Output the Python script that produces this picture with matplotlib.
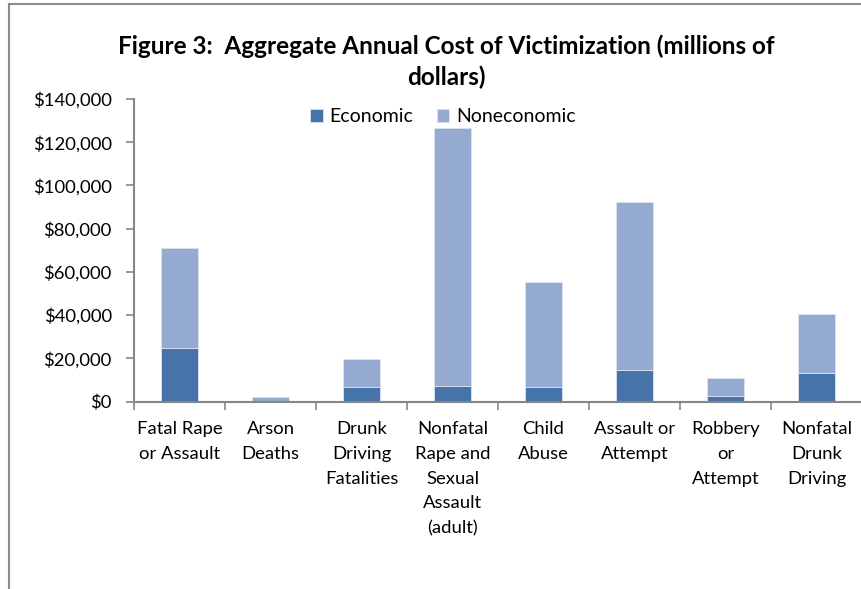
import matplotlib
matplotlib.use("Agg")
import matplotlib.pyplot as plt
from matplotlib.lines import Line2D
from matplotlib.ticker import FuncFormatter
import numpy as np

categories = ["Fatal Rape\nor Assault", "Arson\nDeaths", "Drunk\nDriving\nFatalities",
              "Nonfatal\nRape and\nSexual\nAssault\n(adult)", "Child\nAbuse",
              "Assault or\nAttempt", "Robbery\nor\nAttempt", "Nonfatal\nDrunk\nDriving"]
economic = [24700, 300, 6600, 7100, 6800, 14500, 2500, 13100]
totals = [70900, 1900, 19500, 126600, 55200, 92300, 10800, 40300]
noneconomic = [t - e for t, e in zip(totals, economic)]
yticks = [0, 20000, 40000, 60000, 80000, 100000, 120000, 140000]

plt.rcParams['font.family'] = ['Lato', 'DejaVu Sans']

fig = plt.figure(figsize=(8.62, 5.89), dpi=100)
ax = fig.add_axes([134/862, 1 - 401.5/589, 728/862, (401.5 - 99)/589])

x = np.arange(len(categories))
c_eco = '#4674A8'
c_non = '#95AAD1'
ax.bar(x, economic, width=0.4, color=c_eco, edgecolor='#dbe3f0', linewidth=0.6, label='Economic')
ax.bar(x, noneconomic, width=0.4, bottom=economic, color=c_non, edgecolor='#dbe3f0', linewidth=0.6, label='Noneconomic')

ax.set_xlim(-0.5, len(categories) - 0.5)
ax.set_ylim(0, 140000)
ax.set_yticks(yticks)
ax.yaxis.set_major_formatter(FuncFormatter(lambda v, p: "${:,.0f}".format(v)))

ax.set_xticks(x)
ax.set_xticklabels(categories, fontsize=13.3, linespacing=1.68, va='top')
ax.set_xticks(np.arange(-0.5, len(categories)), minor=True)
ax.tick_params(axis='x', which='major', length=0, pad=14)
ax.tick_params(axis='x', which='minor', length=6, width=1.2, color='#868686', direction='out')
ax.tick_params(axis='y', length=6, width=1.2, color='#868686', direction='out', labelsize=13.3, pad=10)

for s in ['top', 'right']:
    ax.spines[s].set_visible(False)
for s in ['left', 'bottom']:
    ax.spines[s].set_color('#868686')
    ax.spines[s].set_linewidth(1.5)

fig.text(446/862, 1 - 46/589, "Figure 3:  Aggregate Annual Cost of Victimization (millions of",
         ha='center', va='center', fontsize=17.5, fontweight='bold')
fig.text(446/862, 1 - 77/589, "dollars)", ha='center', va='center', fontsize=17.5, fontweight='bold')

leg = fig.legend(loc='center', bbox_to_anchor=(443/862, 1 - 117/589), ncol=2, frameon=False,
                 fontsize=14, handlelength=0.65, handleheight=0.65, handletextpad=0.35, columnspacing=1.2)

fig.add_artist(Line2D([9/862, 9/862], [0, 1 - 4/589], color='#8c8c8c', linewidth=1.5, transform=fig.transFigure))
fig.add_artist(Line2D([9/862, 1], [1 - 4/589, 1 - 4/589], color='#8c8c8c', linewidth=1.5, transform=fig.transFigure))

fig.savefig("out.png", dpi=100)
